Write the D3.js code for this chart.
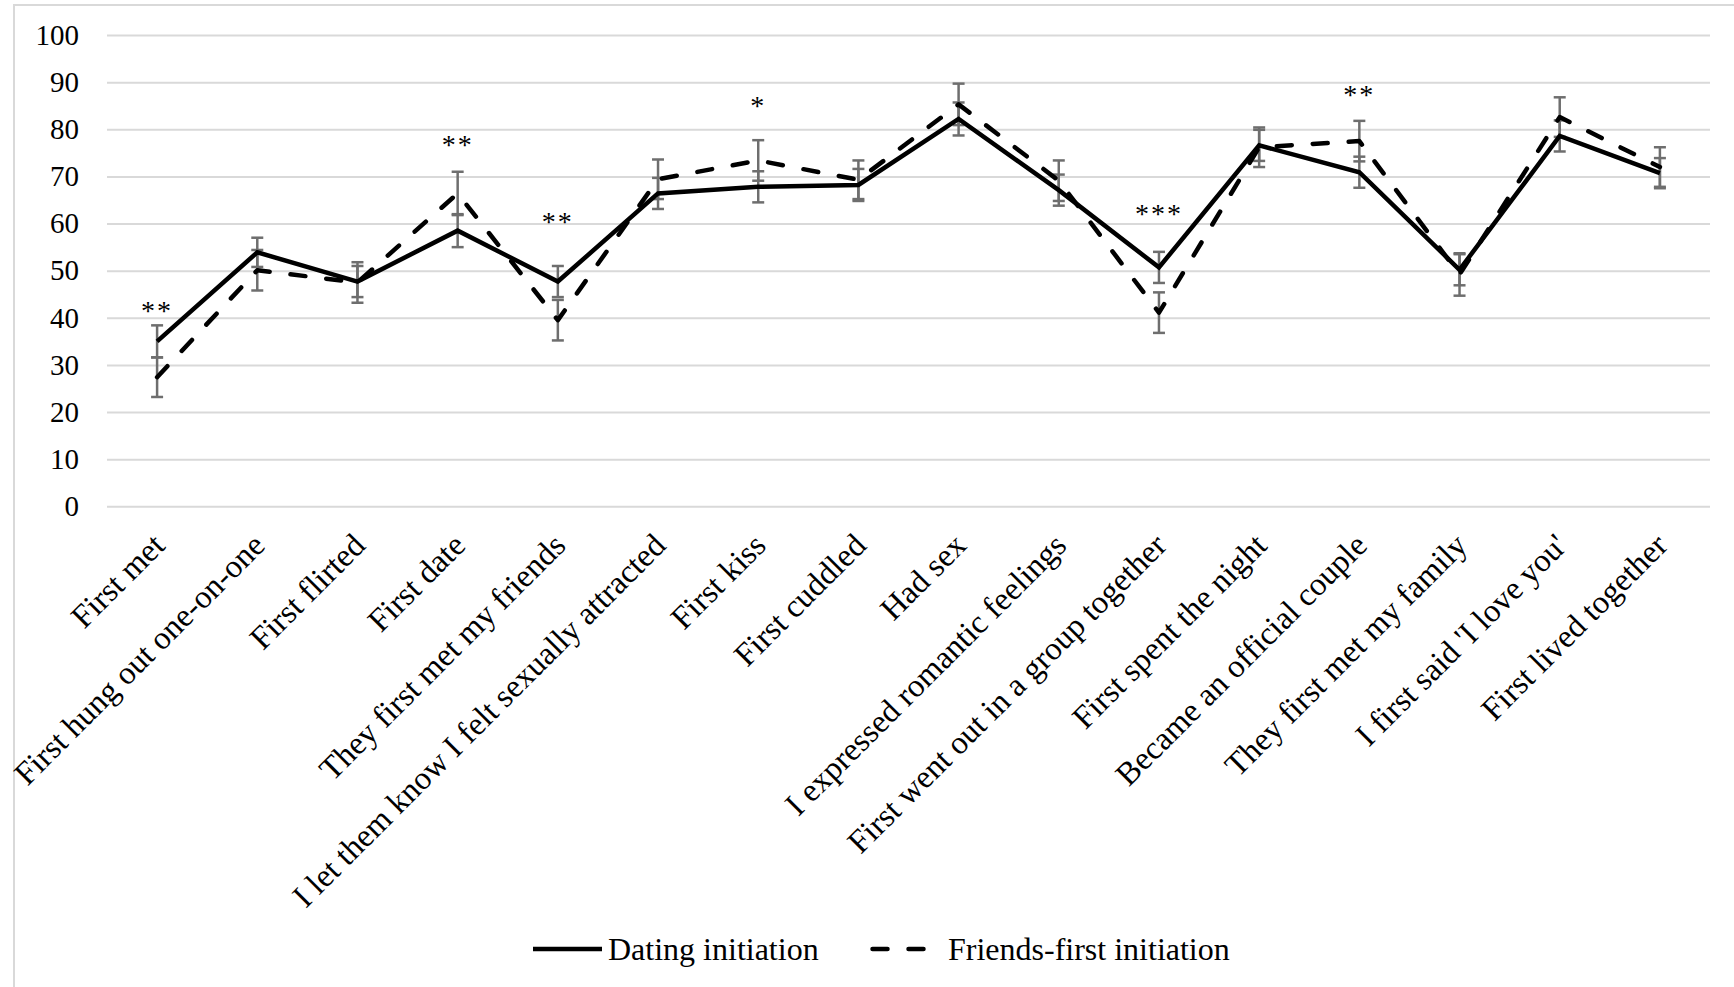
<!DOCTYPE html>
<html lang="en">
<head>
<meta charset="UTF-8">
<title>Initiation timeline</title>
<script src="https://d3js.org/d3.v7.min.js"></script>
<style>
  body { margin: 0; background: #fff; }
  text { font-family: "Liberation Serif", "Times New Roman", serif; fill: #000; }
</style>
</head>
<body>
<script>
// categories (x axis)
var categories = [
  "First met", "First hung out one-on-one", "First flirted", "First date",
  "They first met my friends", "I let them know I felt sexually attracted",
  "First kiss", "First cuddled", "Had sex", "I expressed romantic feelings",
  "First went out in a group together", "First spent the night",
  "Became an official couple", "They first met my family",
  "I first said 'I love you'", "First lived together"
];

// series values
var dating     = [35.0, 53.9, 47.7, 58.5, 47.7, 66.4, 67.8, 68.2, 82.2, 67.1, 50.7, 76.6, 70.9, 50.2, 78.6, 70.7];
var datingErr  = [3.4, 3.1, 3.3, 3.5, 3.3, 3.3, 3.3, 3.4, 3.5, 3.3, 3.3, 3.3, 3.3, 3.3, 3.3, 3.2];
var friends    = [27.4, 50.1, 47.5, 66.4, 39.5, 69.4, 73.4, 69.3, 85.3, 69.1, 41.1, 76.2, 77.5, 49.2, 82.6, 72.0];
var friendsErr = [4.2, 4.3, 4.3, 4.6, 4.3, 4.2, 4.3, 4.1, 4.4, 4.3, 4.3, 4.2, 4.3, 4.5, 4.2, 4.2];

// significance markers
var sigCats  = ["First met", "First date", "They first met my friends", "First kiss",
                "First went out in a group together", "Became an official couple"];
var sigMarks = ["**", "**", "**", "*", "***", "**"];
var sigLevel = [42.2, 77.5, 61.2, 85.7, 62.9, 88.1];

var yTicks = [0, 10, 20, 30, 40, 50, 60, 70, 80, 90, 100];
var seriesNames = ["Dating initiation", "Friends-first initiation"];

var W = 1734, H = 987;
var svg = d3.select("body").append("svg")
  .attr("width", W).attr("height", H);

// outer frame
svg.append("rect")
  .attr("x", 14).attr("y", 5)
  .attr("width", W + 20).attr("height", H + 20)
  .attr("fill", "none").attr("stroke", "#d9d9d9").attr("stroke-width", 2);

var x = d3.scalePoint().domain(categories).range([107, 1710]).padding(0.5);
var y = d3.scaleLinear().domain([0, 100]).range([506.3, 35.1]);

// y axis + gridlines
var yAxis = svg.append("g")
  .attr("transform", "translate(107,0)")
  .call(d3.axisLeft(y).tickValues(yTicks).tickSize(-(1710 - 107)).tickPadding(28));
yAxis.select(".domain").remove();
yAxis.selectAll(".tick line").attr("stroke", "#d9d9d9").attr("stroke-width", 2);
yAxis.selectAll(".tick text")
  .style("font-size", "29px")
  .attr("font-family", null);

// x axis labels
var xAxis = svg.append("g")
  .attr("transform", "translate(0," + y(0) + ")")
  .call(d3.axisBottom(x).tickSize(0));
xAxis.select(".domain").remove();
xAxis.selectAll(".tick text")
  .attr("y", 0).attr("dy", null)
  .attr("text-anchor", "end")
  .attr("transform", "translate(9,41) rotate(-45)")
  .style("font-size", "32.5px");

// error bars
function errorBars(vals, errs) {
  var g = svg.append("g").attr("stroke", "#6e6e6e").attr("stroke-width", 2.5);
  categories.forEach(function (c, i) {
    var cx = x(c), lo = y(vals[i] - errs[i]), hi = y(vals[i] + errs[i]);
    g.append("line").attr("x1", cx).attr("x2", cx).attr("y1", lo).attr("y2", hi);
    g.append("line").attr("x1", cx - 6).attr("x2", cx + 6).attr("y1", lo).attr("y2", lo);
    g.append("line").attr("x1", cx - 6).attr("x2", cx + 6).attr("y1", hi).attr("y2", hi);
  });
}
errorBars(dating, datingErr);
errorBars(friends, friendsErr);

var line = d3.line()
  .x(function (d, i) { return x(categories[i]); })
  .y(function (d) { return y(d); });

svg.append("path")
  .datum(dating)
  .attr("d", line)
  .attr("fill", "none").attr("stroke", "#000").attr("stroke-width", 4.5)
  .attr("stroke-linejoin", "miter");

svg.append("path")
  .datum(friends)
  .attr("d", line)
  .attr("fill", "none").attr("stroke", "#000").attr("stroke-width", 4.5)
  .attr("stroke-dasharray", "15,21").attr("stroke-linecap", "round")
  .attr("stroke-linejoin", "round");

// significance stars
svg.selectAll(".sig")
  .data(sigMarks)
  .enter().append("text")
  .attr("class", "sig")
  .attr("x", function (d, i) { return x(sigCats[i]); })
  .attr("y", function (d, i) { return y(sigLevel[i]) + 13; })
  .attr("text-anchor", "middle")
  .style("font-size", "28px")
  .style("letter-spacing", "2px")
  .text(function (d) { return d; });

// legend
var leg = svg.append("g");
leg.append("line")
  .attr("x1", 533).attr("x2", 602).attr("y1", 949).attr("y2", 949)
  .attr("stroke", "#000").attr("stroke-width", 4.5);
leg.append("text").attr("x", 608).attr("y", 960)
  .style("font-size", "32px").text(seriesNames[0]);
leg.append("line")
  .attr("x1", 872.5).attr("x2", 926.5).attr("y1", 949).attr("y2", 949)
  .attr("stroke", "#000").attr("stroke-width", 4.5)
  .attr("stroke-dasharray", "15,21").attr("stroke-linecap", "round");
leg.append("text").attr("x", 948).attr("y", 960)
  .style("font-size", "32px").text(seriesNames[1]);
</script>
</body>
</html>
